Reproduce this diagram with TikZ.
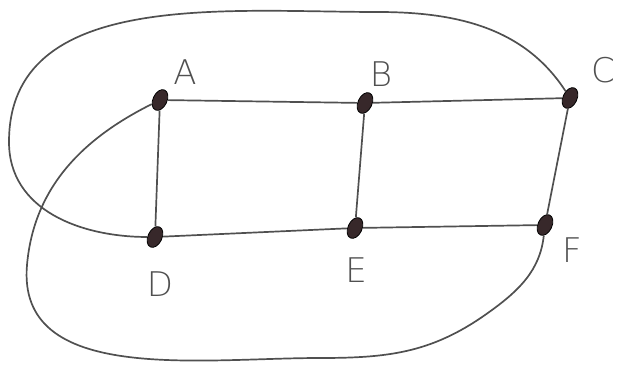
\documentclass[tikz,border=0pt]{standalone}
\usepackage{fontspec}
\usepackage{xcolor}
\usepackage{tikz}
\usetikzlibrary{positioning,shapes.geometric}
\newfontfamily\lblfont{DejaVu Sans ExtraLight}
\definecolor{pencil}{RGB}{80,80,80}
\definecolor{dotink}{RGB}{55,40,42}
\tikzset{
  vtx/.style={ellipse, draw=black, line width=0.8pt, fill=dotink, minimum width=22pt, minimum height=14pt, inner sep=0pt, rotate=65},
  edge/.style={draw=pencil, line width=1.7pt},
  lbl/.style={font=\lblfont\fontsize{34}{36}\selectfont, text=pencil, inner sep=0pt},
}
\begin{document}
\begin{tikzpicture}[x=1pt,y=1pt]
  \useasboundingbox (0,0) rectangle (619,370);
  % vertices
  \node[vtx] (A) at (160,270) {};
  \node[vtx] (B) at (365,267) {};
  \node[vtx] (C) at (570,272) {};
  \node[vtx] (D) at (155,133) {};
  \node[vtx] (E) at (355,142) {};
  \node[vtx] (F) at (545,145) {};
  % labels
  \node[lbl] (la) at (185,298) {A};
  \node[lbl] (lb) at (381,296) {B};
  \node[lbl] (lc) at (603,300) {C};
  \node[lbl] (ld) at (160,86) {D};
  \node[lbl] (le) at (356,100) {E};
  \node[lbl] (lf) at (572,120) {F};
  % edges
  \draw[edge] (A) -- (B);
  \draw[edge] (B) -- (C);
  \draw[edge] (A) -- (D);
  \draw[edge] (B) -- (E);
  \draw[edge] (C) -- (F);
  \draw[edge] (D) -- (E);
  \draw[edge] (E) -- (F);
  % outer curves
  \coordinate (top) at (378,358);
  \coordinate (left) at (9,228);
  \coordinate (low) at (27,105);
  \coordinate (bottom) at (320,12);
  \coordinate (rise) at (485,55);
  \draw[edge] (C) to[out=118,in=0] (top) to[out=180,in=90] (left) to[out=-90,in=172] (D);
  \draw[edge] (A) to[out=200,in=85] (low) to[out=-95,in=180] (bottom)
    to[out=0,in=215] (rise) to[out=35,in=-105] (F);
\end{tikzpicture}
\end{document}
